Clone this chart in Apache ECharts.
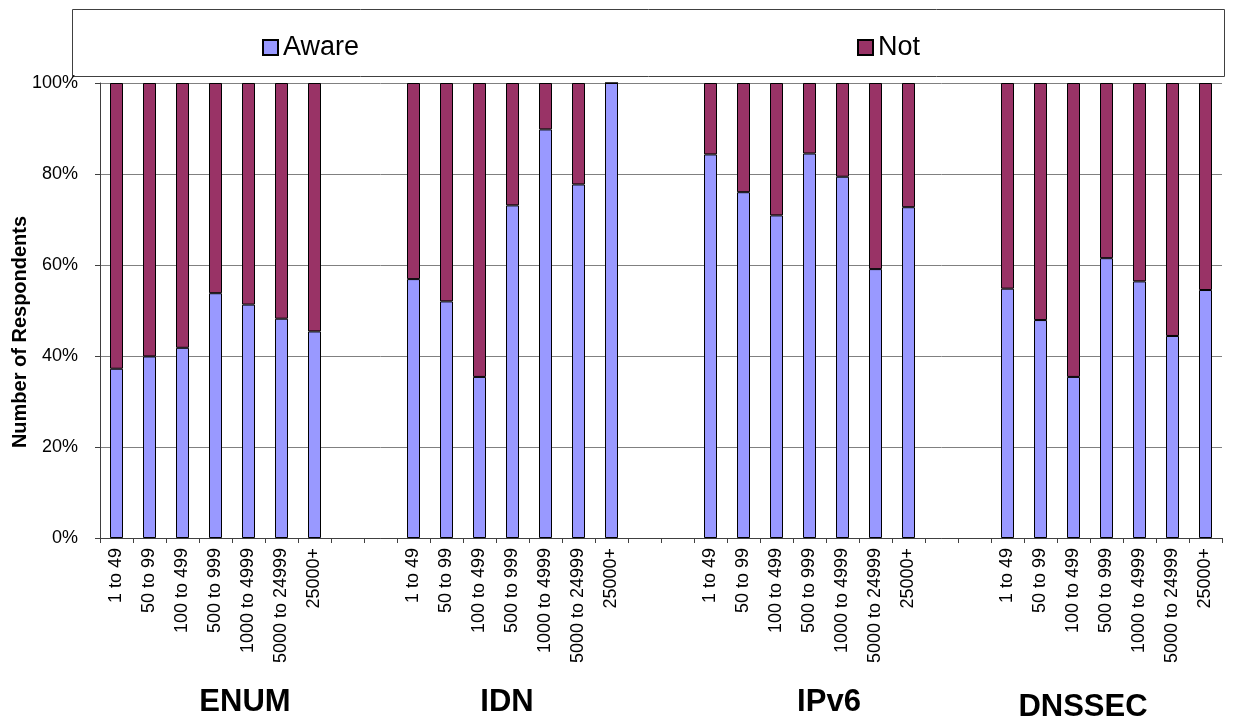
<!DOCTYPE html>
<html>
<head>
<meta charset="utf-8">
<script src="https://cdn.jsdelivr.net/npm/echarts@6/dist/echarts.min.js"></script>
<style>
  html, body { margin: 0; padding: 0; background: #fff; }
  #chart { width: 1234px; height: 722px; }
</style>
</head>
<body>
<div id="chart"></div>
<script>
// ---- data ----
const groups = ['ENUM', 'IDN', 'IPv6', 'DNSSEC'];
const sizes = ['1 to 49', '50 to 99', '100 to 499', '500 to 999', '1000 to 4999', '5000 to 24999', '25000+'];
const yTicks = ['0%', '20%', '40%', '60%', '80%', '100%'];
const yTitle = 'Number of Respondents';

const awareENUM   = [37.2, 39.9, 41.8, 53.8, 51.3, 48.2, 45.4];
const awareIDN    = [56.9, 52.0, 35.4, 73.1, 89.8, 77.7, 100];
const awareIPv6   = [84.3, 76.0, 70.9, 84.5, 79.4, 59.1, 72.7];
const awareDNSSEC = [54.8, 47.9, 35.4, 61.5, 56.4, 44.4, 54.5];

const notENUM   = [62.8, 60.1, 58.2, 46.2, 48.7, 51.8, 54.6];
const notIDN    = [43.1, 48.0, 64.6, 26.9, 10.2, 22.3, 0];
const notIPv6   = [15.7, 24.0, 29.1, 15.5, 20.6, 40.9, 27.3];
const notDNSSEC = [45.2, 52.1, 64.6, 38.5, 43.6, 55.6, 45.5];

const gapCount = 2; // empty category slots between groups

// ---- build category axis & series arrays ----
const awareGroups = [awareENUM, awareIDN, awareIPv6, awareDNSSEC];
const notGroups = [notENUM, notIDN, notIPv6, notDNSSEC];
const categories = [];
const awareData = [];
const notData = [];
groups.forEach(function (g, gi) {
  sizes.forEach(function (s, si) {
    categories.push(s);
    awareData.push(awareGroups[gi][si]);
    notData.push(notGroups[gi][si]);
  });
  if (gi < groups.length - 1) {
    for (let k = 0; k < gapCount; k++) {
      categories.push('');
      awareData.push('-');
      notData.push('-');
    }
  }
});

const FONT = '"Liberation Sans", Arial, sans-serif';
const chart = echarts.init(document.getElementById('chart'));

const groupLabelPos = [
  { x: 245, y: 702 },
  { x: 507, y: 702 },
  { x: 829, y: 702 },
  { x: 1083, y: 707 }
];

chart.setOption({
  animation: false,
  backgroundColor: '#ffffff',
  textStyle: { fontFamily: FONT },
  grid: { left: 100, right: 12, top: 83, bottom: 184, containLabel: false },
  legend: [
    {
      data: ['Aware'], left: 262, top: 34, padding: 0, itemWidth: 15, itemHeight: 15, itemGap: 0,
      textStyle: { fontSize: 27, color: '#000', fontFamily: FONT }, icon: 'rect'
    },
    {
      data: ['Not'], left: 857, top: 34, padding: 0, itemWidth: 15, itemHeight: 15, itemGap: 0,
      textStyle: { fontSize: 27, color: '#000', fontFamily: FONT }, icon: 'rect'
    }
  ],
  graphic: [
    {
      type: 'rect', z: -10,
      shape: { x: 72.5, y: 9.5, width: 1152, height: 67 },
      style: { fill: '#fff', stroke: '#404040', lineWidth: 1 }
    },
    {
      type: 'text', x: 20, y: 332, rotation: Math.PI / 2,
      style: {
        text: yTitle, font: 'bold 20px ' + FONT, fill: '#000',
        align: 'center', verticalAlign: 'middle', textAlign: 'center', textVerticalAlign: 'middle'
      }
    }
  ].concat(groups.map(function (g, i) {
    return {
      type: 'text', x: groupLabelPos[i].x, y: groupLabelPos[i].y,
      style: {
        text: g, font: 'bold 31px ' + FONT, fill: '#000',
        align: 'center', verticalAlign: 'middle', textAlign: 'center', textVerticalAlign: 'middle'
      }
    };
  })),
  xAxis: {
    type: 'category',
    data: categories,
    boundaryGap: true,
    axisLine: { lineStyle: { color: '#404040', width: 1 } },
    axisTick: { show: true, interval: 0, length: 5, lineStyle: { color: '#404040' } },
    axisLabel: {
      interval: 0, rotate: 90, fontSize: 18, color: '#000', margin: 10, fontFamily: FONT
    },
    splitLine: { show: false }
  },
  yAxis: {
    type: 'value',
    min: 0, max: 100, interval: 20,
    axisLine: { show: true, lineStyle: { color: '#404040', width: 1 } },
    axisTick: { show: true, length: 5, lineStyle: { color: '#404040' } },
    axisLabel: {
      fontSize: 18, color: '#000', margin: 22, fontFamily: FONT,
      formatter: function (v) { return yTicks[Math.round(v / 20)]; }
    },
    splitLine: { show: true, lineStyle: { color: '#808080', width: 1 } }
  },
  series: [
    {
      name: 'Aware', type: 'bar', stack: 'total', data: awareData, barWidth: 13,
      itemStyle: { color: '#9999FF', borderColor: '#000', borderWidth: 1 }
    },
    {
      name: 'Not', type: 'bar', stack: 'total', data: notData, barWidth: 13,
      itemStyle: { color: '#993366', borderColor: '#000', borderWidth: 1 }
    }
  ]
});
</script>
</body>
</html>
